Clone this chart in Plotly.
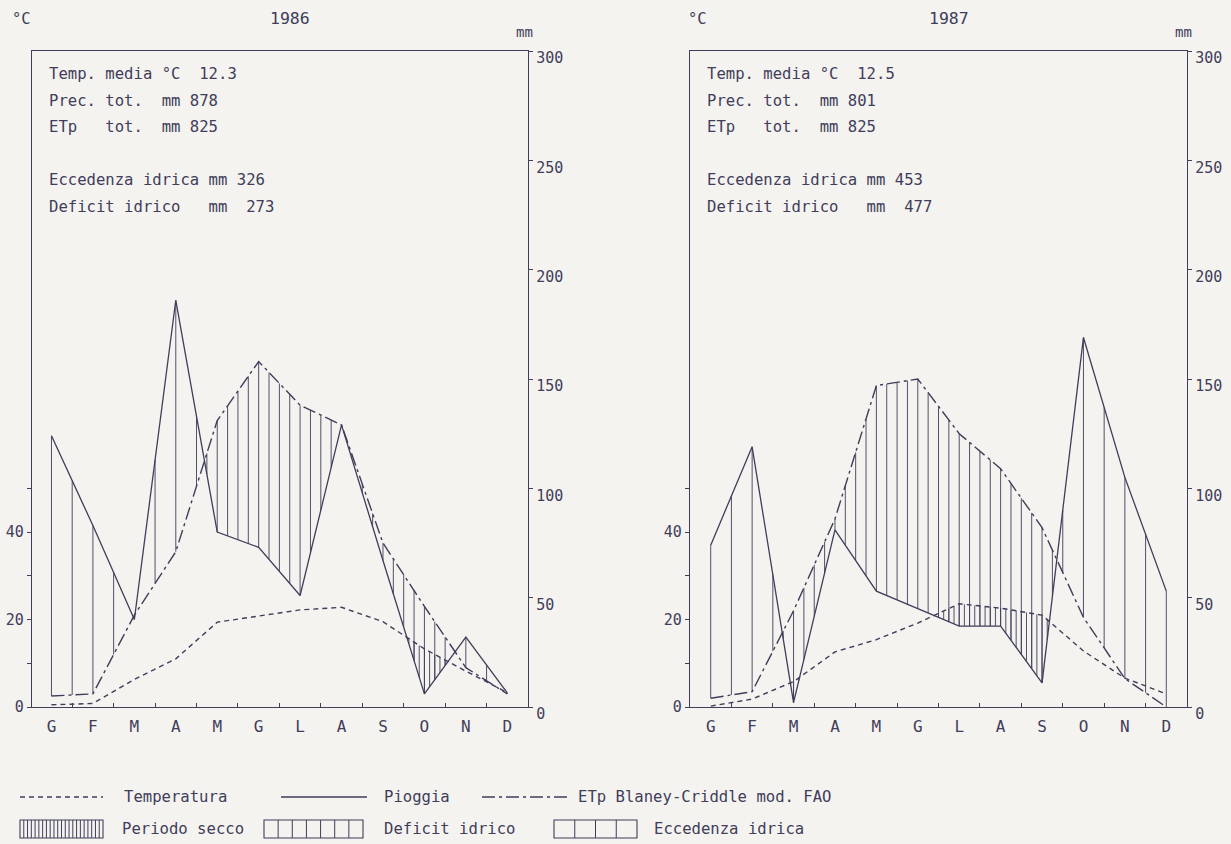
import numpy as np
import plotly.graph_objects as go

# ---------------- data ----------------
months = ["G", "F", "M", "A", "M", "G", "L", "A", "S", "O", "N", "D"]
years = ["1986", "1987"]

temp_1986 = [0.5, 0.8, 6.3, 11.0, 19.4, 20.8, 22.2, 22.8, 19.5, 13.3, 8.2, 3.3]      # degC
rain_1986 = [124, 83, 40, 186, 80, 73, 51, 129, 67, 6, 32, 6.5]                      # mm
etp_1986 = [5, 6, 42, 71, 131, 158, 138, 129, 75, 46, 18, 6]                         # mm

temp_1987 = [0.2, 1.8, 5.8, 12.6, 15.4, 19.2, 23.6, 22.6, 21.0, 12.8, 6.6, 3.0]
rain_1987 = [74, 119, 2, 81, 53, 45, 37, 37, 11, 169, 105, 53]
etp_1987 = [4, 7, 44, 86, 147, 150, 125, 109, 82, 41, 13, 0]

summary_1986 = ["Temp. media °C  12.3", "Prec. tot.  mm 878", "ETp   tot.  mm 825",
                "Eccedenza idrica mm 326", "Deficit idrico   mm  273"]
summary_1987 = ["Temp. media °C  12.5", "Prec. tot.  mm 801", "ETp   tot.  mm 825",
                "Eccedenza idrica mm 453", "Deficit idrico   mm  477"]

temp_ticks = [0, 10, 20, 30, 40, 50]
temp_ticktext = ["0", "", "20", "", "40", ""]
mm_ticks = [0, 50, 100, 150, 200, 250, 300]

legend_lines = ["Temperatura", "Pioggia", "ETp Blaney-Criddle mod. FAO"]
legend_fills = ["Periodo secco", "Deficit idrico", "Eccedenza idrica"]

# ---------------- style ----------------
W, H = 1231, 844
INK = "#413d5a"
BG = "#f4f3ef"
FONT = "DejaVu Sans Mono"
TEMP_DASH = "5px,4px"
ETP_DASH = "13px,4px,3px,4px"
TXT = 15.6


def nb(s):
    return s.replace(" ", "\u00a0")


def px(x):
    return x / W


def py(y):
    return 1 - y / H


mx = np.arange(12)

fig = go.Figure()

panels = [
    dict(year=years[0], temp=temp_1986, rain=rain_1986, etp=etp_1986, summ=summary_1986,
         xa="x", ya="y", ya2="y2", dom=(32, 528), xr=[-0.47, 11.5]),
    dict(year=years[1], temp=temp_1987, rain=rain_1987, etp=etp_1987, summ=summary_1987,
         xa="x2", ya="y3", ya2="y4", dom=(690, 1187), xr=[-0.5, 11.5]),
]


def hatch(lower, upper, step):
    xs, ys = [], []
    for k in np.arange(0, 11 + 1e-9, step):
        lo = float(np.interp(k, mx, lower))
        hi = float(np.interp(k, mx, upper))
        if hi - lo > 0.4:
            xs += [k, k, None]
            ys += [lo, hi, None]
    return xs, ys


annotations = []
ydom = [py(707), py(51)]
layout_axes = {}

for i, p in enumerate(panels):
    rain = np.array(p["rain"], float)
    etp = np.array(p["etp"], float)
    t2 = 2 * np.array(p["temp"], float)

    # hatching: excess (half month), deficit (quarter month), dry period (eighth month)
    for lower, upper, step in [(etp, rain, 0.5), (rain, etp, 0.25), (rain, t2, 0.125)]:
        hx, hy = hatch(lower, upper, step)
        fig.add_trace(go.Scatter(x=hx, y=hy, mode="lines", xaxis=p["xa"], yaxis=p["ya2"],
                                 line=dict(color=INK, width=0.9), hoverinfo="skip",
                                 showlegend=False))

    fig.add_trace(go.Scatter(x=mx, y=p["temp"], mode="lines", xaxis=p["xa"], yaxis=p["ya"],
                             line=dict(color=INK, width=1.4, dash=TEMP_DASH), showlegend=False))
    fig.add_trace(go.Scatter(x=mx, y=p["rain"], mode="lines", xaxis=p["xa"], yaxis=p["ya2"],
                             line=dict(color=INK, width=1.3), showlegend=False))
    fig.add_trace(go.Scatter(x=mx, y=p["etp"], mode="lines", xaxis=p["xa"], yaxis=p["ya2"],
                             line=dict(color=INK, width=1.4, dash=ETP_DASH), showlegend=False))

    xname = "xaxis" if i == 0 else "xaxis2"
    yname = "yaxis" if i == 0 else "yaxis3"
    y2name = "yaxis2" if i == 0 else "yaxis4"
    dom = [px(p["dom"][0]), px(p["dom"][1])]

    layout_axes[xname] = dict(
        domain=dom, range=p["xr"], anchor=p["ya"], showline=True, mirror=True,
        linecolor=INK, linewidth=1.3, showgrid=False, zeroline=False, automargin=False,
        tickmode="array", tickvals=list(mx), ticktext=months, ticks="",
        ticklabelstandoff=5,
        tickfont=dict(family=FONT, size=16, color=INK),
        minor=dict(tickmode="array", tickvals=[k + 0.5 for k in range(11)], ticks="inside",
                   ticklen=4, tickcolor=INK, tickwidth=1.2, showgrid=False),
    )
    layout_axes[yname] = dict(
        domain=ydom, range=[0, 150], anchor=p["xa"], showline=True, linecolor=INK,
        linewidth=1.3, showgrid=False, zeroline=False, automargin=False, tickmode="array",
        tickvals=temp_ticks, ticktext=temp_ticktext, ticks="outside", ticklen=4,
        tickcolor=INK, tickfont=dict(family=FONT, size=15, color=INK),
    )
    layout_axes[y2name] = dict(
        range=[0, 300], overlaying=p["ya"], side="right", anchor=p["xa"], showline=True,
        linecolor=INK, linewidth=1.3, showgrid=False, zeroline=False, automargin=False,
        tickmode="array", tickvals=mm_ticks, ticks="outside", ticklen=4, tickcolor=INK,
        ticklabelshift=7, tickfont=dict(family=FONT, size=15, color=INK),
    )

    x0, x1 = p["dom"]
    annotations.append(dict(text=p["year"], x=px((x0 + x1) / 2 + 10), y=py(18), xref="paper",
                            yref="paper", showarrow=False, xanchor="center", yanchor="middle",
                            font=dict(family=FONT, size=16.5, color=INK)))
    annotations.append(dict(text="°C", x=px(x0 - 22 if i == 0 else x0 - 4), y=py(19),
                            xref="paper", yref="paper", showarrow=False, xanchor="left",
                            yanchor="middle", font=dict(family=FONT, size=15.5, color=INK)))
    annotations.append(dict(text="mm", x=px(x1 - 4), y=py(32), xref="paper", yref="paper",
                            showarrow=False, xanchor="center", yanchor="middle",
                            font=dict(family=FONT, size=14, color=INK)))
    rows = [74, 101, 127, 180, 207]
    for txt, yy in zip(p["summ"], rows):
        annotations.append(dict(text=nb(txt), x=px(x0 + 15), y=py(yy), xref="paper",
                                yref="paper", showarrow=False, xanchor="left",
                                yanchor="middle", font=dict(family=FONT, size=TXT, color=INK)))

# ---------------- legend (drawn in pixel space) ----------------
shapes = []


def pline(x0, y0, x1, y1, dash="solid", width=1.3):
    shapes.append(dict(type="line", xref="paper", yref="paper", x0=px(x0), y0=py(y0),
                       x1=px(x1), y1=py(y1), line=dict(color=INK, width=width, dash=dash)))


row1, row2 = 797, 829
line_samples = [(20, 103, TEMP_DASH), (281, 367, "solid"), (482, 568, ETP_DASH)]
line_text_x = [122, 382, 576]
for (a, b, d), tx, lab in zip(line_samples, line_text_x, legend_lines):
    pline(a, row1, b, row1, dash=d)
    annotations.append(dict(text=nb(lab), x=px(tx), y=py(row1), xref="paper", yref="paper",
                            showarrow=False, xanchor="left", yanchor="middle",
                            font=dict(family=FONT, size=TXT, color=INK)))

boxes = [(20, 103, 22), (264, 363, 7), (554, 637, 4)]
box_text_x = [120, 382, 652]
for (a, b, cells), tx, lab in zip(boxes, box_text_x, legend_fills):
    shapes.append(dict(type="rect", xref="paper", yref="paper", x0=px(a), x1=px(b),
                       y0=py(838), y1=py(820), line=dict(color=INK, width=1.1)))
    for c in range(1, cells):
        xx = a + (b - a) * c / cells
        pline(xx, 820, xx, 838, width=1.0)
    annotations.append(dict(text=nb(lab), x=px(tx), y=py(row2), xref="paper", yref="paper",
                            showarrow=False, xanchor="left", yanchor="middle",
                            font=dict(family=FONT, size=TXT, color=INK)))

fig.update_layout(
    width=W, height=H, margin=dict(l=0, r=0, t=0, b=0, autoexpand=False),
    paper_bgcolor=BG, plot_bgcolor=BG, showlegend=False,
    annotations=annotations, shapes=shapes,
    font=dict(family=FONT, color=INK),
    **layout_axes,
)

fig.write_html("out.html")
